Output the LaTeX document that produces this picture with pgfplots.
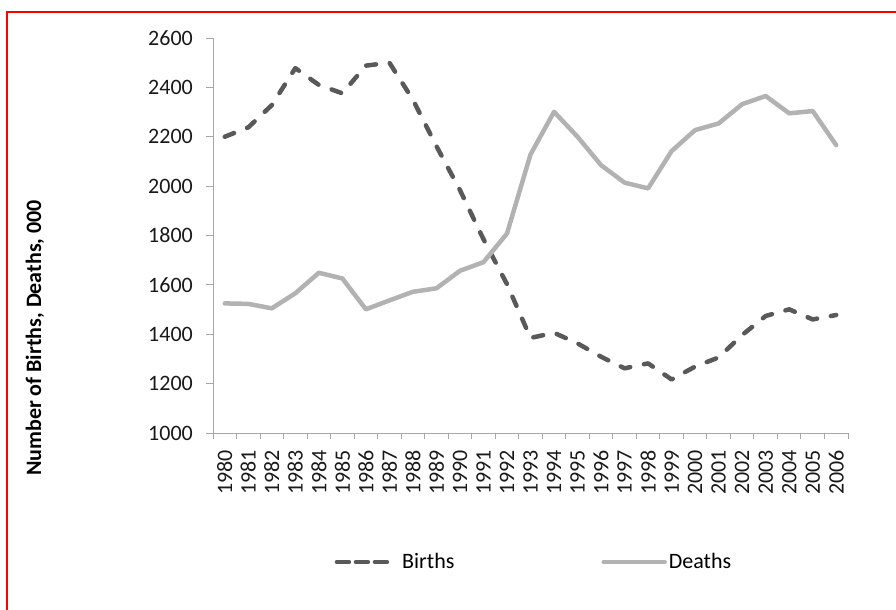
\documentclass[border=0pt]{standalone}
\usepackage{pgfplots}
\pgfplotsset{compat=1.18}
\usepackage{fontspec}
\setmainfont{Carlito}
\definecolor{birthc}{HTML}{595959}
\definecolor{deathc}{HTML}{B2B2B2}
\definecolor{axc}{HTML}{A6A6A6}
\pgfplotstableread{
x births deaths
0 2200 1525
1 2238 1523
2 2328 1505
3 2478 1566
4 2410 1649
5 2376 1626
6 2488 1501
7 2500 1537
8 2350 1572
9 2162 1586
10 1984 1657
11 1785 1692
12 1603 1808
13 1385 2128
14 1406 2301
15 1363 2200
16 1309 2085
17 1262 2014
18 1282 1991
19 1217 2142
20 1269 2227
21 1306 2254
22 1397 2332
23 1474 2365
24 1501 2295
25 1460 2304
26 1478 2166
}\mydata
\begin{document}
\fontsize{22bp}{26bp}\selectfont
\begin{tikzpicture}
\path[use as bounding box] (0,0) rectangle (896bp,-610bp);
\draw[red, line width=2bp] (7bp,-611bp) -- (7bp,-12bp) -- (897bp,-12bp);
\begin{axis}[
  at={(213bp,-433bp)}, anchor=south west,
  scale only axis, width=635bp, height=395bp,
  xmin=-0.5, xmax=26.5, ymin=1000, ymax=2600,
  axis lines*=left,
  axis line style={axc, line width=1bp},
  every tick/.style={axc, line width=1bp},
  tick align=outside,
  xtick={0,...,26},
  xticklabels={1980,1981,1982,1983,1984,1985,1986,1987,1988,1989,1990,1991,1992,1993,1994,1995,1996,1997,1998,1999,2000,2001,2002,2003,2004,2005,2006},
  major x tick style={draw=none},
  minor xtick={-0.5,0.5,...,26.5},
  minor tick length=6bp,
  ytick={1000,1200,...,2600},
  yticklabels={1000,1200,1400,1600,1800,2000,2200,2400,2600},
  major tick length=7bp,
  xticklabel style={rotate=90, anchor=east, inner sep=0pt, xshift=-10bp, font=\fontsize{22bp}{26bp}\selectfont, text=black!90},
  yticklabel style={anchor=east, inner sep=0pt, xshift=-13bp, font=\fontsize{22bp}{26bp}\selectfont, text=black!90},
  ylabel={\bfseries Number of Births, Deaths, 000},
  ylabel style={at={(axis description cs:-0.2803,0.2405)}, anchor=center, font=\fontsize{22bp}{26bp}\selectfont},
  legend columns=2,
  legend style={at={(axis description cs:0.5055,-0.3266)}, anchor=center, draw=none, fill=none,
    font=\fontsize{22bp}{26bp}\selectfont, /tikz/every even column/.append style={column sep=145bp}},
]
\addplot[birthc, line width=4.5bp, line cap=round, line join=round, dash pattern=on 10bp off 14bp,
  legend image code/.code={\draw[birthc, line width=4.5bp, line cap=round, dash pattern=on 12bp off 7bp] (2bp,0) -- (55bp,0); \path (63bp,0);}]
  table[x=x, y=births] {\mydata};
\addlegendentry{Births}
\addplot[deathc, line width=4.5bp, line cap=round, line join=round,
  legend image code/.code={\draw[deathc, line width=4.5bp, line cap=round] (2bp,0) -- (63bp,0);}]
  table[x=x, y=deaths] {\mydata};
\addlegendentry{Deaths}
\end{axis}
\end{tikzpicture}
\end{document}
